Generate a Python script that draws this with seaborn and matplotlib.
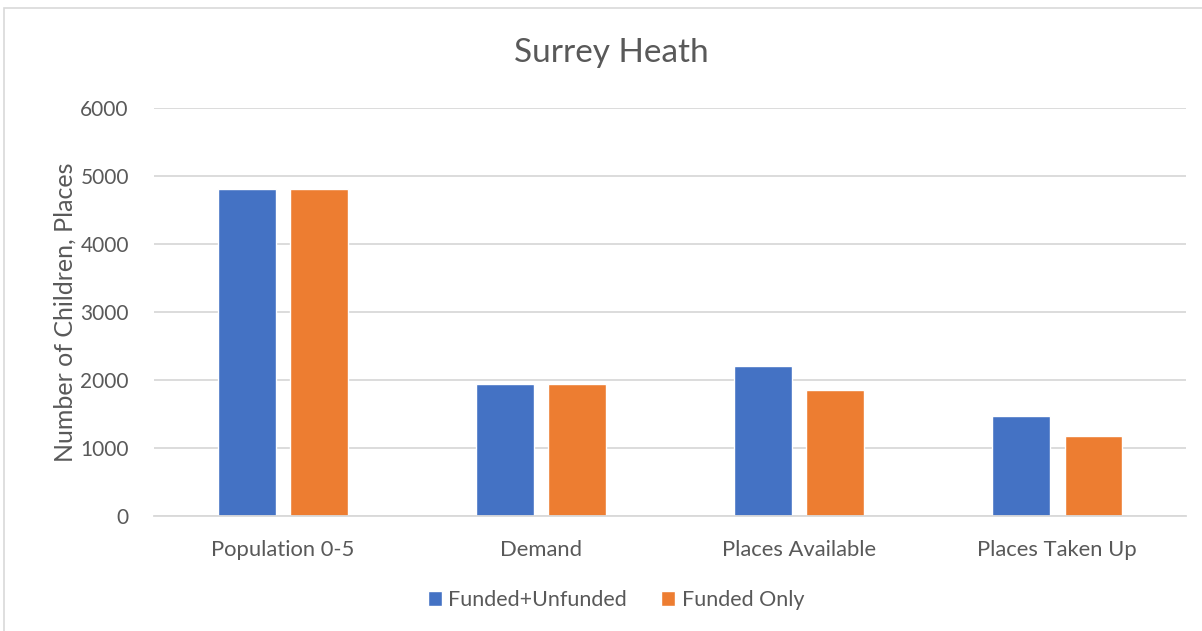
import matplotlib
matplotlib.use('Agg')
import matplotlib.pyplot as plt
import seaborn as sns
import pandas as pd
from matplotlib.patches import Rectangle

# data
categories = ['Population 0-5', 'Demand', 'Places Available', 'Places Taken Up']
funded_unfunded = [4810, 1935, 2205, 1475]
funded_only = [4810, 1935, 1855, 1172]
series_names = ['Funded+Unfunded', 'Funded Only']

df = pd.DataFrame({
    'category': categories * 2,
    'series': [series_names[0]] * 4 + [series_names[1]] * 4,
    'value': funded_unfunded + funded_only,
})

sns.set_theme(style='white')
plt.rcParams['font.family'] = ['Lato', 'DejaVu Sans']
text_col = '#595959'
grid_col = '#D9D9D9'

fig = plt.figure(figsize=(12.02, 6.31), dpi=100)
ax = fig.add_axes([0.128, 0.182, 0.859, 0.647])

sns.barplot(data=df, x='category', y='value', hue='series', order=categories,
            hue_order=series_names, palette=['#4472C4', '#ED7D31'],
            width=0.56, gap=0.2, ax=ax, saturation=1, errorbar=None)

ax.set_ylim(0, 6000)
ax.set_yticks(range(0, 6001, 1000))
ax.yaxis.grid(True, color=grid_col, linewidth=1.3)
ax.set_axisbelow(True)
for s in ['top', 'right', 'left']:
    ax.spines[s].set_visible(False)
ax.spines['bottom'].set_color(grid_col)
ax.spines['bottom'].set_linewidth(1.3)
ax.tick_params(axis='x', length=0, labelsize=15.8, colors=text_col, pad=17)
ax.tick_params(axis='y', length=0, labelsize=15, colors=text_col, pad=18)
ax.set_xlabel('')
ax.set_ylabel('Number of Children, Places', fontsize=18, color=text_col, labelpad=3)
fig.text(611 / 1202, 1 - 53 / 631, 'Surrey Heath', fontsize=24, color=text_col,
         ha='center', va='center')

ax.legend(loc='center', bbox_to_anchor=(616 / 1202, 1 - 600 / 631),
          bbox_transform=fig.transFigure, ncol=2, frameon=False,
          fontsize=15.5, labelcolor=text_col, handlelength=0.65, handleheight=0.65,
          handletextpad=0.3, columnspacing=1.6)

# chart border
fig.patches.append(Rectangle((4 / 1202, -0.1), 1.2, 1 - 8 / 631 + 0.1,
                             transform=fig.transFigure, fill=False,
                             edgecolor=grid_col, linewidth=1.2))

fig.savefig('out.png', dpi=100)
